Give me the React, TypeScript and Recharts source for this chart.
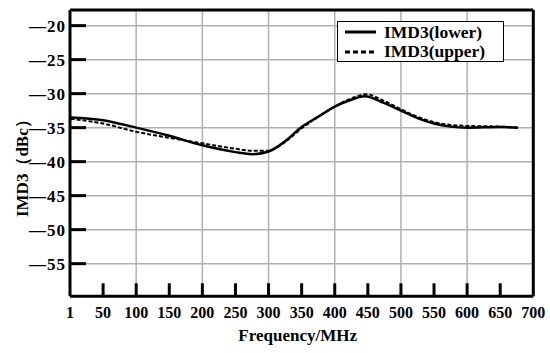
import React from 'react';
import {
  LineChart,
  Line,
  XAxis,
  YAxis,
  CartesianGrid,
  ReferenceLine,
  Legend,
  Label,
} from 'recharts';

// ---- data ----
const freqLower = [1, 50, 100, 150, 200, 250, 275, 300, 325, 350, 375, 400, 425, 445, 475, 500, 525, 550, 575, 600, 650, 677];
const imd3Lower = [-33.5, -33.9, -35.0, -36.2, -37.6, -38.6, -38.9, -38.5, -37.0, -34.9, -33.4, -31.9, -30.9, -30.4, -31.4, -32.5, -33.6, -34.4, -34.85, -35.0, -34.9, -35.0];

const freqUpper = [1, 50, 100, 150, 200, 250, 275, 300, 325, 350, 375, 400, 425, 448, 475, 500, 525, 550, 575, 600, 650, 677];
const imd3Upper = [-33.7, -34.4, -35.6, -36.5, -37.3, -38.1, -38.4, -38.4, -37.1, -35.1, -33.4, -31.9, -30.7, -30.1, -31.1, -32.3, -33.4, -34.2, -34.6, -34.75, -34.85, -35.0];

const xTicks = [0, 50, 100, 150, 200, 250, 300, 350, 400, 450, 500, 550, 600, 650, 700];
const xTickLabels = ['1', '50', '100', '150', '200', '250', '300', '350', '400', '450', '500', '550', '600', '650', '700'];
const xGrid = [100, 200, 300, 400, 500, 600];
const yTicks = [-55, -50, -45, -40, -35, -30, -25, -20];
const xDomain: [number, number] = [0, 700];
const yDomain: [number, number] = [-59.8, -17.7];

const seriesNames = ['IMD3(lower)', 'IMD3(upper)'];
const xTitle = 'Frequency/MHz';
const yTitle = 'IMD3（dBc）';

const lowerData = freqLower.map((f, i) => ({ f, v: imd3Lower[i] }));
const upperData = freqUpper.map((f, i) => ({ f, v: imd3Upper[i] }));

const FONT = '"Liberation Serif", "Times New Roman", serif';

const YTick = (props: any) => {
  const { x, y, payload } = props;
  const ax = x + 4;
  return (
    <g>
      <line x1={ax} x2={ax + 16} y1={y} y2={y} stroke="#000" strokeWidth={3} />
      <text
        x={x}
        y={y}
        dy="0.36em"
        textAnchor="end"
        fontFamily={FONT}
        fontWeight="bold"
        fontSize={17}
        letterSpacing={1}
        fill="#000"
      >
        {'\u2014' + Math.abs(payload.value)}
      </text>
    </g>
  );
};

const XTick = (props: any) => {
  const { x, y, payload } = props;
  const v = payload.value;
  const inner = v !== xDomain[0] && v !== xDomain[1];
  return (
    <g>
      {inner && <line x1={x} x2={x} y1={y} y2={y - 13} stroke="#000" strokeWidth={3} />}
      <text
        x={x}
        y={y + 22}
        textAnchor="middle"
        fontFamily={FONT}
        fontWeight="bold"
        fontSize={16}
        fill="#000"
      >
        {xTickLabels[xTicks.indexOf(v)] ?? String(v)}
      </text>
    </g>
  );
};

const LegendBox = () => (
  <svg width={167} height={41} style={{ display: 'block' }}>
    <rect x={0.5} y={0.5} width={166} height={40} fill="#fff" stroke="#000" strokeWidth={1} />
    <line x1={8} x2={39} y1={11} y2={11} stroke="#000" strokeWidth={3} />
    <line x1={8} x2={39} y1={31} y2={31} stroke="#000" strokeWidth={3} strokeDasharray="5 3" />
    <text x={47} y={17} fontFamily={FONT} fontWeight="bold" fontSize={17.5} fill="#000">
      {seriesNames[0]}
    </text>
    <text x={47} y={35.5} fontFamily={FONT} fontWeight="bold" fontSize={17.5} fill="#000">
      {seriesNames[1]}
    </text>
  </svg>
);

export default function App() {
  return (
    <div style={{ position: 'absolute', left: 0, top: 0, background: '#fff' }}>
      <LineChart
        width={550}
        height={353}
        margin={{ top: 10, right: 16.7, bottom: 0, left: 10 }}
        style={{ fontFamily: FONT }}
      >
        <CartesianGrid horizontal vertical={false} stroke="#b0b0b0" strokeWidth={1.5} />
        {xGrid.map((g) => (
          <ReferenceLine key={g} x={g} stroke="#b0b0b0" strokeWidth={1.5} />
        ))}
        <XAxis
          type="number"
          dataKey="f"
          domain={xDomain}
          ticks={xTicks}
          allowDataOverflow
          interval={0}
          tickLine={false}
          tickSize={0}
          tickMargin={0}
          height={56.7}
          axisLine={{ stroke: '#000', strokeWidth: 3 }}
          tick={<XTick />}
        >
          <Label
            content={(p: any) => {
              const vb = p.viewBox || {};
              return (
                <text
                  x={vb.x + vb.width / 2 - 4}
                  y={vb.y + 45}
                  textAnchor="middle"
                  fontFamily={FONT}
                  fontWeight="bold"
                  fontSize={17}
                  fill="#000"
                >
                  {xTitle}
                </text>
              );
            }}
          />
        </XAxis>
        <YAxis
          type="number"
          domain={yDomain}
          ticks={yTicks}
          allowDataOverflow
          interval={0}
          width={60}
          tickLine={false}
          tickSize={0}
          tickMargin={4}
          axisLine={{ stroke: '#000', strokeWidth: 3 }}
          tick={<YTick />}
        >
          <Label
            content={(p: any) => {
              const vb = p.viewBox || {};
              const cx = vb.x + 13;
              const cy = vb.y + vb.height / 2 + 11;
              return (
                <text
                  x={cx}
                  y={cy}
                  transform={`rotate(-90, ${cx}, ${cy})`}
                  textAnchor="middle"
                  dominantBaseline="central"
                  fontFamily={FONT}
                  fontWeight="bold"
                  fontSize={17}
                  fill="#000"
                >
                  {yTitle}
                </text>
              );
            }}
          />
        </YAxis>
        <ReferenceLine y={yDomain[1]} stroke="#000" strokeWidth={3} />
        <ReferenceLine x={xDomain[1]} stroke="#000" strokeWidth={3} />
        <Line
          data={upperData}
          dataKey="v"
          name={seriesNames[1]}
          type="monotone"
          stroke="#000"
          strokeWidth={2}
          strokeDasharray="4 2"
          dot={false}
          activeDot={false}
          isAnimationActive={false}
        />
        <Line
          data={lowerData}
          dataKey="v"
          name={seriesNames[0]}
          type="monotone"
          stroke="#000"
          strokeWidth={2.5}
          dot={false}
          activeDot={false}
          isAnimationActive={false}
        />
        <Legend
          layout="vertical"
          align="center"
          verticalAlign="middle"
          wrapperStyle={{ left: 337, top: 21, width: 167, height: 41 }}
          content={() => <LegendBox />}
        />
      </LineChart>
    </div>
  );
}
